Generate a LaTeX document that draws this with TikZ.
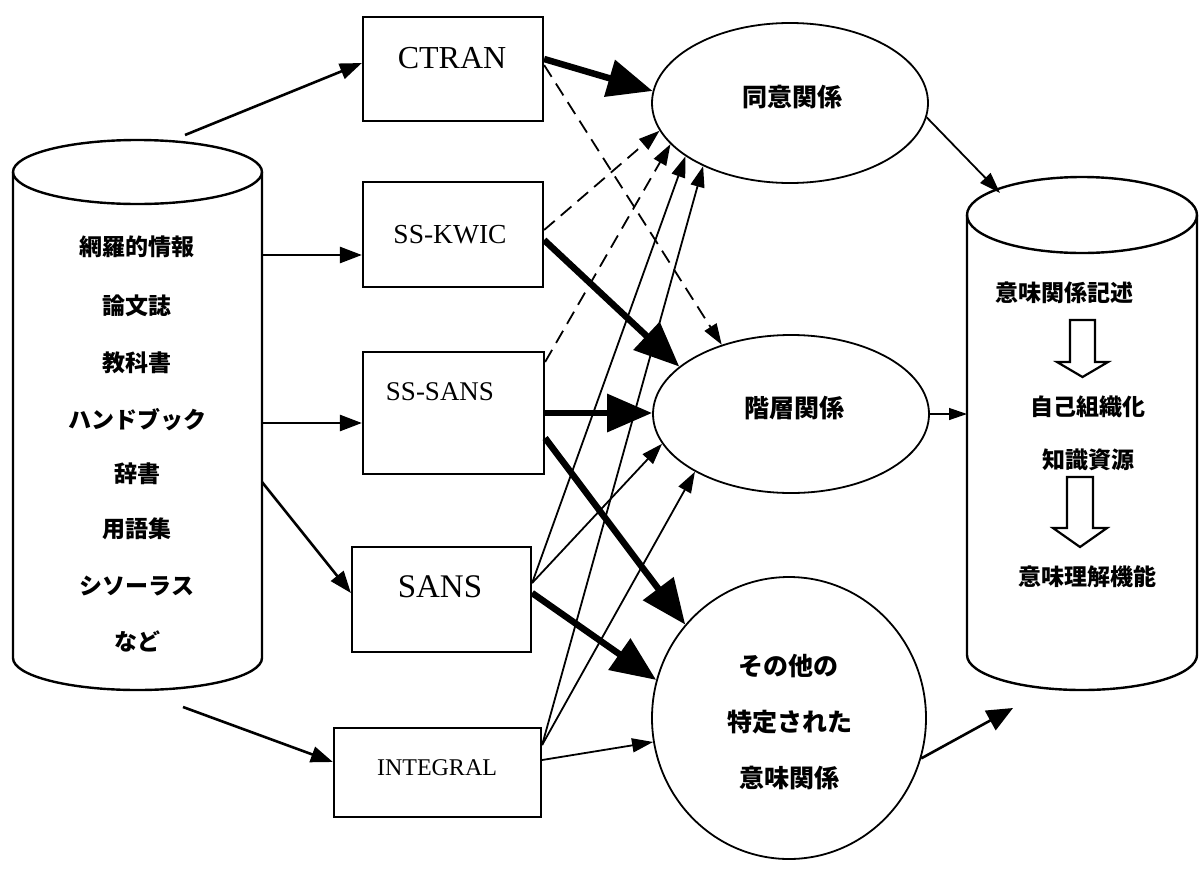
\documentclass[tikz,border=0pt]{standalone}
\usepackage{fontspec}
\setmainfont{Liberation Serif}
\newfontfamily\jp{Noto Sans CJK JP}
\usetikzlibrary{arrows.meta,shapes.geometric}
\begin{document}
\begin{tikzpicture}[x=1pt,y=-1pt,
  box/.style={draw,line width=2.2pt,inner sep=0pt},
  rel/.style={draw,ellipse,line width=1.8pt,inner sep=0pt},
  lbl/.style={anchor=base,inner sep=0pt},
  jtxt/.style={font=\jp\bfseries\fontsize{23}{23}\selectfont,inner sep=0pt},
  jbig/.style={font=\jp\bfseries\fontsize{25}{25}\selectfont,inner sep=0pt},
  cyl/.style={line width=2.4pt},
  feed/.style={line width=2.6pt,-{Triangle[length=22pt,width=16pt]}},
  thinarr/.style={line width=1.8pt,-{Triangle[length=21pt,width=14pt]}},
  dsh/.style={thinarr,dash pattern=on 14pt off 8pt},
  heavy/.style={line width=6.5pt,-{Triangle[length=45pt,width=37pt]}},
  hollow/.style={line width=2.2pt,fill=white},
]
\path[fill=white] (0,0) rectangle (1202,873);
\useasboundingbox (0,0) rectangle (1202,873);

% left cylinder
\draw[cyl] (13,172) -- (13,658) arc[start angle=180,end angle=360,x radius=124.5pt,y radius=32pt] -- (262,172);
\draw[cyl] (137.5,172) ellipse[x radius=124.5pt,y radius=32pt];
\node[jtxt] (t1) at (137,247) {網羅的情報};
\node[jtxt] (t2) at (137,306) {論文誌};
\node[jtxt] (t3) at (137,363) {教科書};
\node[jtxt] (t4) at (137,420) {ハンドブック};
\node[jtxt] (t5) at (137,474) {辞書};
\node[jtxt] (t6) at (137,529) {用語集};
\node[jtxt] (t7) at (137,586) {シソーラス};
\node[jtxt] (t8) at (137,641) {など};

% right cylinder
\draw[cyl] (967,215) -- (967,655) arc[start angle=180,end angle=360,x radius=115pt,y radius=35pt] -- (1197,215);
\draw[cyl] (1082,215) ellipse[x radius=115pt,y radius=38pt];
\node[jtxt] (r1) at (1064,293) {意味関係記述};
\node[jtxt] (r2) at (1088,407) {自己組織化};
\node[jtxt] (r3) at (1088,460) {知識資源};
\node[jtxt] (r4) at (1087,577) {意味理解機能};
\draw[hollow] (1070,320) -- (1095,320) -- (1095,362) -- (1108,362) -- (1082.5,377) -- (1057,362) -- (1070,362) -- cycle;
\draw[hollow] (1067,477) -- (1093,477) -- (1093,528) -- (1107,528) -- (1080,547) -- (1053,528) -- (1067,528) -- cycle;

% boxes
\node[box,minimum width=180pt,minimum height=104pt] (ctran) at (453,69) {};
\node[box,minimum width=180pt,minimum height=105pt] (sskwic) at (453,234.5) {};
\node[box,minimum width=181pt,minimum height=122pt] (sssans) at (453.5,413) {};
\node[box,minimum width=179pt,minimum height=105pt] (sans) at (441.5,599.5) {};
\node[box,minimum width=207pt,minimum height=89pt] (integral) at (437.5,772.5) {};
\node[lbl,font=\fontsize{32}{32}\selectfont] (ctranT) at (452,68) {CTRAN};
\node[lbl,font=\fontsize{27.5}{27.5}\selectfont] (sskwicT) at (450,243) {SS-KWIC};
\node[lbl,font=\fontsize{27}{27}\selectfont] (sssansT) at (440,400) {SS-SANS};
\node[lbl,font=\fontsize{33}{33}\selectfont] (sansT) at (440,597) {SANS};
\node[lbl,font=\fontsize{24}{24}\selectfont] (integralT) at (437,775) {INTEGRAL};

% relation ellipses
\node[rel,minimum width=276pt,minimum height=160pt] (syn) at (790,103) {};
\node[rel,minimum width=276pt,minimum height=158pt] (hier) at (791,414) {};
\node[rel,minimum width=274pt,minimum height=282pt] (other) at (789,718) {};
\node[jbig] (synT) at (792,97) {同意関係};
\node[jbig] (hierT) at (794,408) {階層関係};
\node[jbig] (oT1) at (788,666) {その他の};
\node[jbig] (oT2) at (790,722) {特定された};
\node[jbig] (oT3) at (789,778) {意味関係};

% free ends
\coordinate (s1) at (185,135);
\coordinate (s2) at (262,255);
\coordinate (s3) at (262,423);
\coordinate (s4) at (262,482);
\coordinate (s5) at (183,707);
\coordinate (rtop) at (1000,193);
\coordinate (rleft) at (967,414);
\coordinate (rbot) at (1013,708);

% feeds from the left cylinder
\draw[feed] (s1) -- ([yshift=6pt]ctran.west);
\draw[feed] (s2) -- ([yshift=-20.5pt]sskwic.west);
\draw[feed] (s3) -- ([yshift=-10pt]sssans.west);
\draw[feed] (s4) -- ([yshift=6.5pt]sans.west);
\draw[feed] (s5) -- ([yshift=10.5pt]integral.west);

% dashed
\draw[dsh] ([yshift=4pt]ctran.east) -- (hier.135);
\draw[dsh] ([yshift=4.5pt]sskwic.east) -- (syn.192);
\draw[dsh] ([yshift=51pt]sssans.east) -- (syn.199);

% thin solid
\draw[thinarr] ([yshift=16.5pt]sans.east) -- (syn.207);
\draw[thinarr] ([yshift=27.5pt]integral.east) -- (syn.216);
\draw[thinarr] ([yshift=16.5pt]sans.east) -- (hier.193);
\draw[thinarr] ([yshift=27.5pt]integral.east) -- (hier.211);
\draw[thinarr] ([yshift=12.5pt]integral.east) -- (other.190);

% heavy
\draw[heavy] ([yshift=10pt]ctran.east) -- (syn.175);
\draw[heavy] ([yshift=-5.5pt]sskwic.east) -- (hier.157);
\draw[heavy] (sssans.east) -- (sssans.east -| hier.west);
\draw[heavy] ([yshift=-25pt]sssans.east) -- (other.138);
\draw[heavy] ([yshift=6.5pt]sans.east) -- (other.164);

% to the right cylinder
\draw[thinarr] (syn.-6) -- (rtop);
\draw[line width=1.3pt,-{Triangle[length=18pt,width=12pt]}] (hier.east) -- (rleft);
\draw[line width=2.6pt,-{Triangle[length=26pt,width=22pt]}] (other.-17) -- (rbot);
\end{tikzpicture}
\end{document}
